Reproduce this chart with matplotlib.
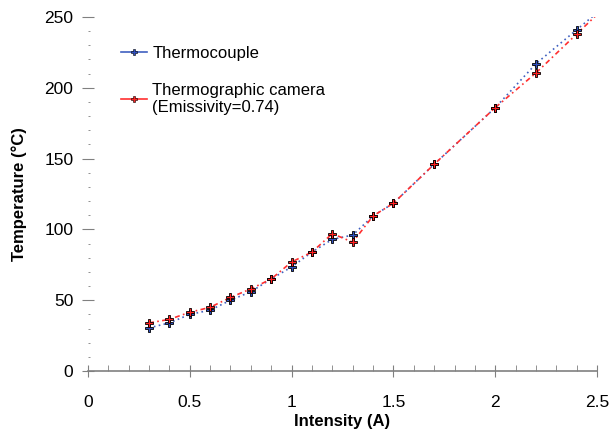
import matplotlib.pyplot as plt
import numpy as np
from matplotlib.ticker import MultipleLocator

plt.rcParams['font.family'] = ['Liberation Sans', 'DejaVu Sans']

current = [0.3, 0.4, 0.5, 0.6, 0.7, 0.8, 0.9, 1.0, 1.1, 1.2, 1.3, 1.4, 1.5, 1.7, 2.0, 2.2, 2.4]
thermocouple = [30.5, 34, 40, 43, 50, 56, 65, 73.5, 84, 93, 96, 109.5, 118.5, 146, 186, 217, 241]
camera = [34, 36.5, 41.5, 45, 52, 58, 65, 77, 84, 97, 91, 109.5, 118.5, 146, 186, 210.5, 238]


def with_tail(x, y, x_end):
    # carry the last segment on to the top of the plot
    slope = (y[-1] - y[-2]) / (x[-1] - x[-2])
    return x + [x_end], y + [y[-1] + slope * (x_end - x[-1])]


fig = plt.figure(figsize=(6.1, 4.33), dpi=100)
ax = fig.add_axes([0.144, 0.143, 0.835, 0.818])

bx, by = with_tail(current, thermocouple, 2.6)
rx, ry = with_tail(current, camera, 2.6)
ax.plot(bx, by, color='#4060c0', ls=(0, (1, 2)), lw=1.2)
ax.plot(rx, ry, color='#ff3030', ls=(0, (3, 2, 1, 2)), lw=1.2)

ax.plot(current, thermocouple, ls='none', marker='P', ms=5.5, mfc='#3050c0', mec='black', mew=0.6)
ax.plot(current, camera, ls='none', marker='P', ms=5.5, mfc='#ff2020', mec='black', mew=0.6)

# legend drawn with proxy lines
ax.plot([], [], color='#4060c0', lw=1.2, marker='P', ms=4, mfc='#3050c0', mec='black', mew=0.4,
        label='Thermocouple')
ax.plot([], [], color='#ff3030', lw=1.2, marker='P', ms=4, mfc='#ff2020', mec='black', mew=0.4,
        label='Thermographic camera\n(Emissivity=0.74)')
handles, labels = ax.get_legend_handles_labels()
leg = ax.legend(handles[-2:], labels[-2:], loc='upper left', bbox_to_anchor=(0.035, 0.96),
                frameon=False, fontsize=12, handlelength=1.6, handletextpad=0.3,
                labelspacing=1.3)

ax.set_xlim(0, 2.5)
ax.set_ylim(0, 250)
ax.xaxis.set_major_locator(MultipleLocator(0.5))
ax.xaxis.set_minor_locator(MultipleLocator(0.1))
ax.yaxis.set_major_locator(MultipleLocator(50))
ax.yaxis.set_minor_locator(MultipleLocator(10))
ax.set_xticks([0, 0.5, 1, 1.5, 2, 2.5])
ax.set_xticklabels(['0', '0.5', '1', '1.5', '2', '2.5'])

for s in ['top', 'right', 'left']:
    ax.spines[s].set_visible(False)
ax.spines['bottom'].set_color('#808080')
ax.spines['bottom'].set_linewidth(1.2)

ax.tick_params(axis='x', which='major', direction='inout', length=8, color='#808080',
               labelsize=12.5, pad=13)
ax.tick_params(axis='x', which='minor', direction='in', length=4, color='#808080')
ax.tick_params(axis='y', which='major', direction='inout', length=9, color='#808080',
               labelsize=12.5, pad=6)
ax.tick_params(axis='y', which='minor', direction='in', length=1.5, color='#808080')
ax.yaxis.get_major_ticks()[-1].tick1line.set_visible(False)

ax.set_xlabel('Intensity (A)', fontsize=12, fontweight='bold', labelpad=3)
ax.set_ylabel('Temperature (°C)', fontsize=12, fontweight='bold', labelpad=12)

fig.savefig('out.png')
